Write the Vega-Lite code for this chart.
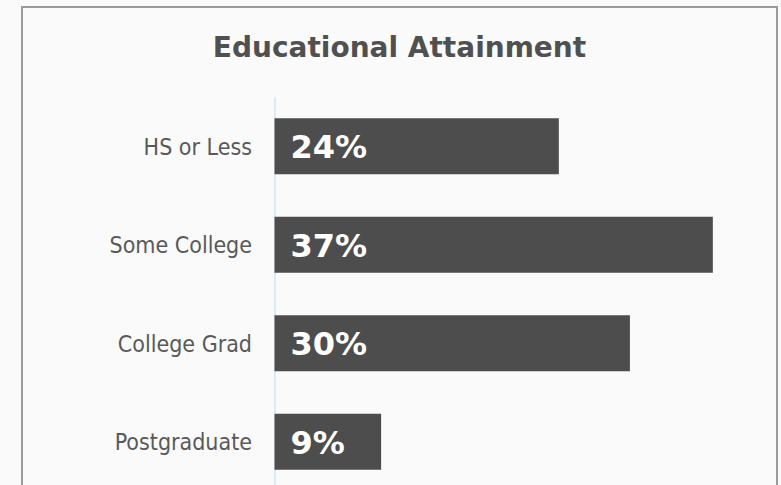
{
  "$schema": "https://vega.github.io/schema/vega-lite/v6.json",
  "width": 755,
  "height": 490,
  "autosize": "none",
  "padding": {"left": 22, "top": 7, "right": 4, "bottom": 0},
  "background": "#fafafa",
  "title": {
    "text": "Educational Attainment",
    "anchor": "middle",
    "frame": "group",
    "offset": -78,
    "baseline": "alphabetic",
    "font": "DejaVu Sans",
    "fontSize": 28,
    "fontWeight": "bold",
    "color": "#505050"
  },
  "data": {
    "values": [
      {"level": "HS or Less", "pct": 24, "label": "24%"},
      {"level": "Some College", "pct": 37, "label": "37%"},
      {"level": "College Grad", "pct": 30, "label": "30%"},
      {"level": "Postgraduate", "pct": 9, "label": "9%"}
    ]
  },
  "encoding": {
    "y": {
      "field": "level",
      "type": "nominal",
      "sort": null,
      "scale": {"range": [90, 484], "paddingInner": 0.43, "paddingOuter": 0.215},
      "axis": {
        "title": null,
        "orient": "left",
        "offset": -252.5,
        "ticks": false,
        "grid": false,
        "domainColor": "#d6e2f5",
        "domainWidth": 1.5,
        "labelFont": "DejaVu Sans Condensed",
        "labelFontSize": 23,
        "labelColor": "#595959",
        "labelPadding": 23,
        "labelOffset": 1.5,
        "labelLimit": 300
      }
    }
  },
  "layer": [
    {
      "mark": {"type": "bar", "color": "#4d4d4d"},
      "encoding": {
        "x": {
          "field": "pct",
          "type": "quantitative",
          "scale": {"domain": [0, 42.5], "range": [252.5, 756], "nice": false, "zero": false},
          "axis": null
        }
      }
    },
    {
      "mark": {
        "type": "text",
        "align": "left",
        "baseline": "alphabetic",
        "dx": 16,
        "dy": 12,
        "font": "DejaVu Sans",
        "fontSize": 32,
        "fontWeight": "bold",
        "color": "#ffffff"
      },
      "encoding": {
        "x": {"datum": 0, "type": "quantitative"},
        "text": {"field": "label"}
      }
    }
  ],
  "config": {
    "view": {"stroke": "#9a9a9a", "strokeWidth": 2, "fill": "#fafafa"}
  }
}
